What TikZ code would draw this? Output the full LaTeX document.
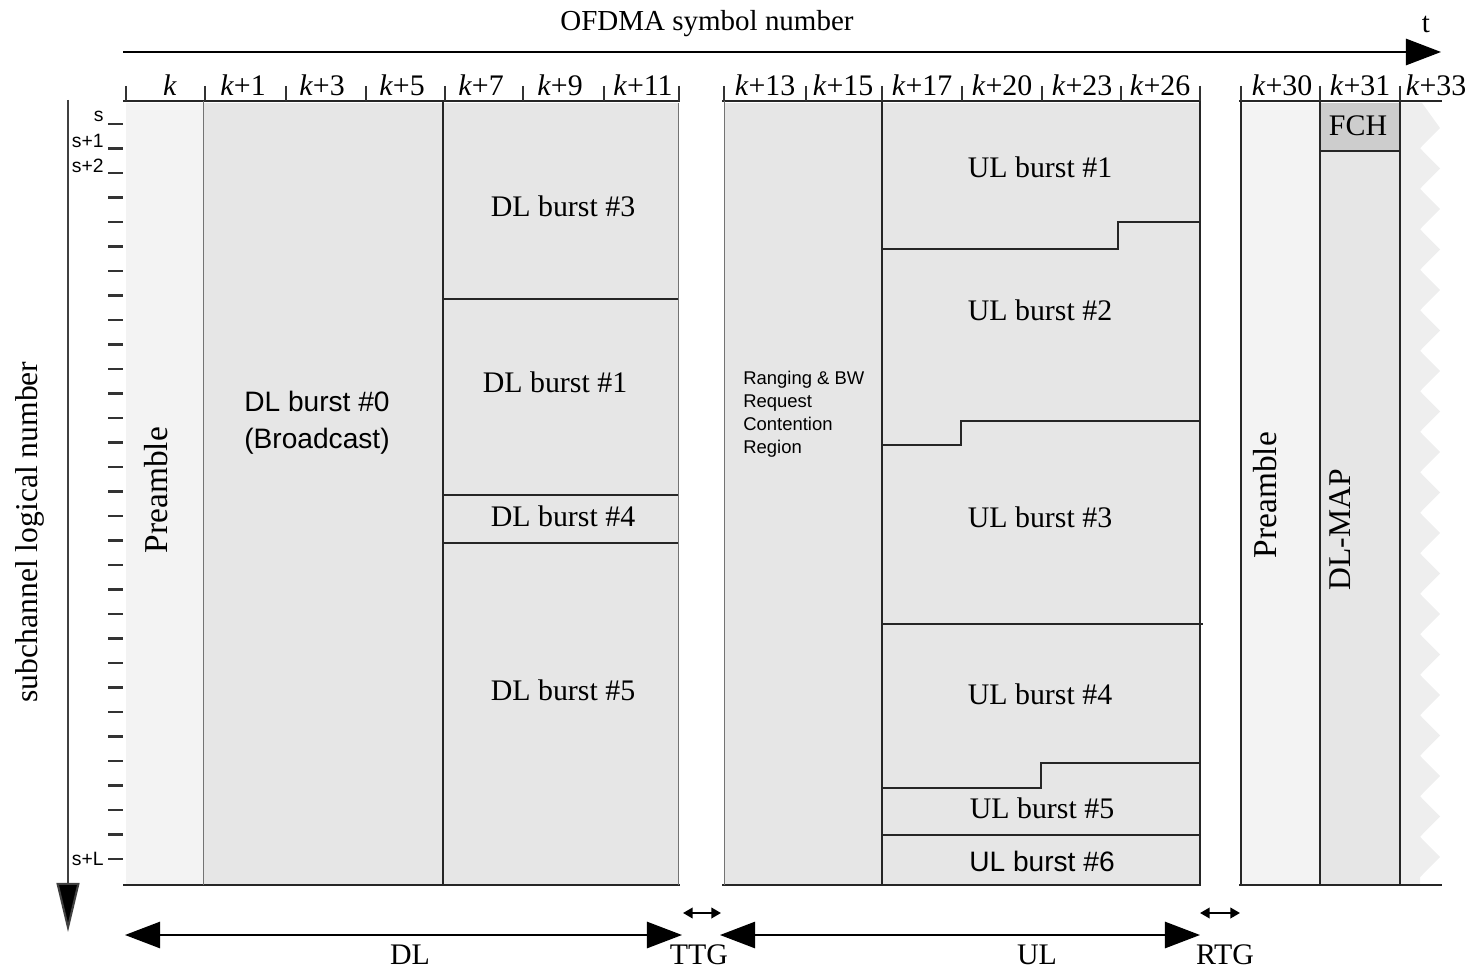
\documentclass[tikz,border=0pt]{standalone}
\usepackage{fontspec}
\setmainfont{Liberation Serif}
\setsansfont{Liberation Sans}
\usetikzlibrary{arrows.meta}
\definecolor{prefill}{RGB}{243,243,243}
\definecolor{boxfill}{RGB}{230,230,230}
\definecolor{fchfill}{RGB}{205,205,205}
\definecolor{zigfill}{RGB}{238,238,238}
\begin{document}
\begin{tikzpicture}[x=0.02cm,y=-0.02cm,
  serif/.style={font=\fontsize{17}{20}\selectfont, inner sep=0pt},
  serifrot/.style={font=\fontsize{19}{22}\selectfont, inner sep=0pt, rotate=90},
  sans/.style={font=\sffamily\fontsize{16}{21}\selectfont, inner sep=0pt, align=left},
  small/.style={font=\sffamily\fontsize{10.5}{13}\selectfont, inner sep=0pt},
  thinb/.style={draw=black!55, line width=0.5pt},
  div/.style={draw=black!85, line width=1pt},
  axis/.style={draw=black!85, line width=1.1pt},
  bigarrow/.style={line width=1.1pt, draw=black, -{Triangle[length=20pt,width=15pt]}},
  bothbig/.style={line width=1pt, draw=black, {Triangle[length=20pt,width=15pt]}-{Triangle[length=20pt,width=15pt]}},
  bothsmall/.style={line width=1.2pt, draw=black, {Triangle[length=5.5pt,width=6pt]}-{Triangle[length=5.5pt,width=6pt]}}
]
\useasboundingbox (0,0) rectangle (1469,972);

% ---------- fills ----------
\fill[prefill] (126,103) rectangle (203,885);
\fill[boxfill] (203,103) rectangle (678,885);
\fill[boxfill] (724,103) rectangle (1200,885);
\fill[prefill] (1241,103) rectangle (1320,885);
\fill[boxfill] (1320,103) rectangle (1400,885);
\fill[fchfill] (1320,103) rectangle (1400,151);
% zigzag edge
\fill[zigfill] (1400,103) -- (1422,103)
  \foreach \i in {0,...,18} { -- (1440,{128+\i*40.5}) -- (1420,{148.25+\i*40.5}) }
  -- (1420,885) -- (1400,885) -- cycle;

% ---------- title axis ----------
\node[font=\fontsize{16.5}{20}\selectfont, inner sep=0pt] (title) at (707,24) {OFDMA symbol number};
\node[font=\fontsize{16.5}{20}\selectfont, inner sep=0pt] (tlab) at (1426,24) {t};
\coordinate (ta) at (123,52);
\coordinate (tb) at (1441,52);
\draw[bigarrow] (ta) -- (tb);

% ---------- header lines and ticks ----------
\draw[axis] (123,101) -- (680,101);
\draw[axis] (722,101) -- (1201,101);
\draw[axis] (1239,101) -- (1442,101);
\foreach \x in {126,205,286,366,445,523,604,679,724,806,882,962,1042,1121,1200,1241,1320,1400}
  \draw[line width=0.8pt, black!80] (\x,86) -- (\x,101);
\foreach \x/\t/\n in {170/{\textit{k}}/a, 243/{\textit{k}+1}/b, 322/{\textit{k}+3}/c, 402/{\textit{k}+5}/d,
  481/{\textit{k}+7}/e, 560/{\textit{k}+9}/f, 643/{\textit{k}+11}/g,
  765/{\textit{k}+13}/h, 843/{\textit{k}+15}/i, 922/{\textit{k}+17}/j, 1002/{\textit{k}+20}/l,
  1082/{\textit{k}+23}/m, 1160/{\textit{k}+26}/n, 1282/{\textit{k}+30}/o, 1360/{\textit{k}+31}/p, 1436/{\textit{k}+33}/q}
  \node[serif, anchor=base] (hd\n) at (\x,96) {\t};

% ---------- bottom lines ----------
\draw[axis] (123,885) -- (680,885);
\draw[axis] (722,885) -- (1201,885);
\draw[axis] (1239,885) -- (1442,885);

% ---------- region borders ----------
\draw[thinb] (203,101) -- (203,885);
\draw[thinb] (724,101) -- (724,885);
\draw[thinb] (678,103) -- (678,885);
\draw[div] (443,101) -- (443,885);
\draw[div] (882,101) -- (882,885);
\draw[div] (1200,101) -- (1200,885);
\draw[div] (1241,101) -- (1241,885);
\draw[div] (1320,101) -- (1320,885);
\draw[div] (1400,101) -- (1400,885);
\draw[div] (1320,151) -- (1400,151);
% DL dividers
\draw[div] (443,299) -- (678,299);
\draw[div] (443,495) -- (678,495);
\draw[div] (443,543) -- (678,543);
% UL dividers
\draw[div] (882,249) -- (1118,249) -- (1118,222) -- (1200,222);
\draw[div] (882,445) -- (961,445) -- (961,421) -- (1200,421);
\draw[div] (882,624) -- (1203,624);
\draw[div] (882,788) -- (1041,788) -- (1041,763) -- (1200,763);
\draw[div] (882,835) -- (1200,835);

% ---------- region labels ----------
\node[serifrot] (pre1) at (156,490) {Preamble};
\node[sans, align=center] (dl0) at (317,423) {DL burst \#0\\(Broadcast)};
\node[serif] (dl3) at (563,206) {DL burst \#3};
\node[serif] (dl1) at (555,382) {DL burst \#1};
\node[serif] (dl4) at (563,516) {DL burst \#4};
\node[serif] (dl5) at (563,690) {DL burst \#5};
\node[small, anchor=north west, align=left] (rng) at (743,371) {Ranging \& BW\\Request\\Contention\\Region};
\node[serif] (ul1) at (1040,167) {UL burst \#1};
\node[serif] (ul2) at (1040,310) {UL burst \#2};
\node[serif] (ul3) at (1040,517) {UL burst \#3};
\node[serif] (ul4) at (1040,694) {UL burst \#4};
\node[serif] (ul5) at (1042,808) {UL burst \#5};
\node[sans] (ul6) at (1042,861) {UL burst \#6};
\node[serifrot] (pre2) at (1265,495) {Preamble};
\node[serif] (fch) at (1358,126) {FCH};
\node[serif, rotate=90, font=\fontsize{18}{20}\selectfont] (dlmap) at (1340,530) {DL-MAP};

% ---------- vertical axis ----------
\coordinate (va) at (68,100);
\coordinate (vb) at (68,932);
\draw[line width=1.2pt, black!75, -{Triangle[length=28pt,width=13pt,fill=black]}] (va) -- (vb);
\node[font=\fontsize{18}{20}\selectfont, rotate=90, inner sep=0pt] (ylab) at (30,532) {subchannel logical number};
\foreach \i in {0,...,30}
  \draw[line width=1.2pt, black!80] (108,{124+\i*24.5}) -- (123,{124+\i*24.5});
\node[small, anchor=east, font=\sffamily\fontsize{11}{13}\selectfont] (s0) at (104,116) {s};
\node[small, anchor=east, font=\sffamily\fontsize{11}{13}\selectfont] (s1) at (104,141) {s+1};
\node[small, anchor=east, font=\sffamily\fontsize{11}{13}\selectfont] (s2) at (104,166) {s+2};
\node[small, anchor=east, font=\sffamily\fontsize{11}{13}\selectfont] (sL) at (104,859) {s+L};

% ---------- bottom arrows ----------
\coordinate (dla) at (125,935);
\coordinate (dlb) at (682,935);
\coordinate (ula) at (720,935);
\coordinate (ulb) at (1200,935);
\coordinate (ttga) at (683,913);
\coordinate (ttgb) at (721,913);
\coordinate (rtga) at (1200,913);
\coordinate (rtgb) at (1240,913);
\draw[bothbig] (dla) -- (dlb);
\draw[bothbig] (ula) -- (ulb);
\draw[bothsmall] (ttga) -- (ttgb);
\draw[bothsmall] (rtga) -- (rtgb);
\node[serif] (dl) at (410,955) {DL};
\node[serif] (ttg) at (699,955) {TTG};
\node[serif] (ul) at (1037,955) {UL};
\node[serif] (rtg) at (1225,955) {RTG};
\end{tikzpicture}
\end{document}
